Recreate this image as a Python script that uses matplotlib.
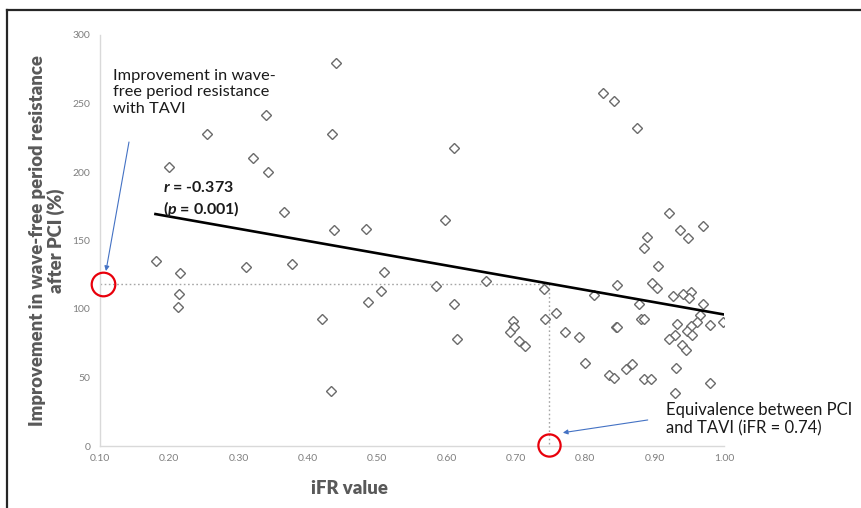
import numpy as np
import matplotlib.pyplot as plt
from matplotlib.lines import Line2D

plt.rcParams['font.family'] = ['Lato', 'DejaVu Sans']
plt.rcParams['mathtext.fontset'] = 'custom'
plt.rcParams['mathtext.bfit'] = 'Lato:italic:bold'
plt.rcParams['mathtext.it'] = 'Lato:italic'

# iFR value vs improvement in wave-free period resistance after PCI (%)
ifr = [0.339, 0.255, 0.321, 0.343, 0.199, 0.435, 0.366, 0.181, 0.215, 0.310,
       0.377, 0.214, 0.212, 0.420, 0.440, 0.610, 0.597, 0.437, 0.484, 0.509,
       0.505, 0.487, 0.584, 0.657, 0.610, 0.615, 0.741, 0.742, 0.758, 0.696,
       0.697, 0.692, 0.705, 0.713, 0.433, 0.826, 0.841, 0.874, 0.921, 0.889,
       0.885, 0.936, 0.948, 0.970, 0.905, 0.845, 0.896, 0.904, 0.812, 0.877,
       0.927, 0.941, 0.952, 0.949, 0.969, 0.965, 0.998, 0.980, 0.961, 0.953,
       0.946, 0.954, 0.932, 0.929, 0.921, 0.939, 0.945, 0.880, 0.884, 0.844,
       0.845, 0.770, 0.791, 0.799, 0.858, 0.868, 0.834, 0.842, 0.884, 0.895,
       0.931, 0.930, 0.980]
improvement = [241.6, 228.0, 210.0, 200.0, 203.4, 227.5, 170.6, 134.8, 126.0, 130.7,
               132.6, 110.7, 101.7, 92.7, 279.8, 217.7, 165.0, 157.7, 158.4, 126.8,
               113.4, 104.9, 116.8, 120.7, 103.6, 77.9, 114.6, 92.7, 96.8, 91.0,
               86.6, 83.2, 76.9, 73.2, 40.1, 257.4, 251.6, 232.3, 169.9, 152.8,
               144.8, 157.7, 151.8, 160.8, 131.6, 117.7, 119.0, 115.5, 110.4, 103.4,
               109.5, 110.7, 112.4, 107.8, 103.6, 95.4, 90.5, 88.3, 90.5, 87.4,
               83.7, 80.8, 88.8, 80.8, 78.3, 73.5, 69.9, 92.5, 92.5, 86.6,
               86.8, 83.0, 79.8, 60.6, 56.4, 59.6, 51.8, 49.6, 48.9, 48.9,
               56.9, 38.7, 45.8]

# regression line end points
trend_x = [0.18, 1.0]
trend_y = [169.3, 96.0]

# equivalence point (TAVI improvement level and iFR)
ref_ifr = 0.747
ref_y = 118.0

xticks = [0.1, 0.2, 0.3, 0.4, 0.5, 0.6, 0.7, 0.8, 0.9, 1.0]
yticks = [0, 50, 100, 150, 200, 250, 300]

fig = plt.figure(figsize=(8.61, 5.08), dpi=100)
ax = fig.add_axes([100/861, 1 - 446/508, 624/861, 411/508])

ax.plot(ifr, improvement, 'D', ms=5.4, mfc='white', mec='#6a6a6a', mew=1.0,
        linestyle='none', zorder=3)
ax.plot(trend_x, trend_y, color='black', lw=1.9, zorder=4)

# dotted guide lines
ax.plot([0.1, ref_ifr], [ref_y, ref_y], color='#a6a6a6', lw=1.0, ls=(0, (1.2, 1.8)), zorder=2)
ax.plot([ref_ifr, ref_ifr], [ref_y, 0], color='#a6a6a6', lw=1.0, ls=(0, (1.2, 1.8)), zorder=2)

# red circles
ax.plot([0.1039], [ref_y], 'o', ms=17, mfc='none', mec='#e8000b', mew=1.6, clip_on=False, zorder=5)
ax.plot([ref_ifr], [0.7], 'o', ms=16, mfc='none', mec='#e8000b', mew=1.6, clip_on=False, zorder=5)

# blue arrows
arrow = dict(arrowstyle='-|>', color='#4472c4', lw=0.8, mutation_scale=7, shrinkA=0, shrinkB=0)
ax.annotate('', xy=(0.1086, 127.7), xytext=(0.1418, 221.9), arrowprops=arrow)
ax.annotate('', xy=(0.7676, 9.7), xytext=(0.890, 19.0), arrowprops=arrow)

ax.text(0.119, 275, 'Improvement in wave-\nfree period resistance\nwith TAVI',
        fontsize=11.8, color='#1a1a1a', va='top', ha='left', linespacing=1.2)
ax.text(0.191, 194, r'$\mathbfit{r}$ = -0.373' + '\n' + r'($\mathbfit{p}$ = 0.001)',
        fontsize=11.5, fontweight='bold', color='#1a1a1a', va='top', ha='left',
        linespacing=1.25, zorder=6)
ax.text(0.917, 32, 'Equivalence between PCI\nand TAVI (iFR = 0.74)',
        fontsize=12, color='#1a1a1a', va='top', ha='left', linespacing=1.2,
        clip_on=False)

ax.set_xlim(0.1, 1.0)
ax.set_ylim(0, 300)
ax.set_xticks(xticks)
ax.set_xticklabels([f'{t:.2f}' for t in xticks])
ax.set_yticks(yticks)
ax.tick_params(length=0, labelsize=7.5, labelcolor='#7f7f7f')
ax.tick_params(axis='y', pad=7)
ax.tick_params(axis='x', pad=6)
for s in ['top', 'right']:
    ax.spines[s].set_visible(False)
for s in ['left', 'bottom']:
    ax.spines[s].set_color('#d9d9d9')
    ax.spines[s].set_linewidth(1.0)

fig.text(47/861, 1 - 241/508, 'Improvement in wave-free period resistance\nafter PCI (%)',
         rotation=90, ha='center', va='center', fontsize=13.3, fontweight='heavy',
         color='#595959', linespacing=1.1, multialignment='center')
fig.text(349/861, 1 - 488/508, 'iFR value', ha='center', va='center',
         fontsize=13.3, fontweight='heavy', color='#595959')

# outer frame (left and top edges visible)
fig.add_artist(Line2D([7/861, 7/861], [0, 1 - 10/508], color='#262626', lw=1.6))
fig.add_artist(Line2D([7/861, 1], [1 - 10/508, 1 - 10/508], color='#262626', lw=1.6))

fig.savefig('out.png', dpi=100)
